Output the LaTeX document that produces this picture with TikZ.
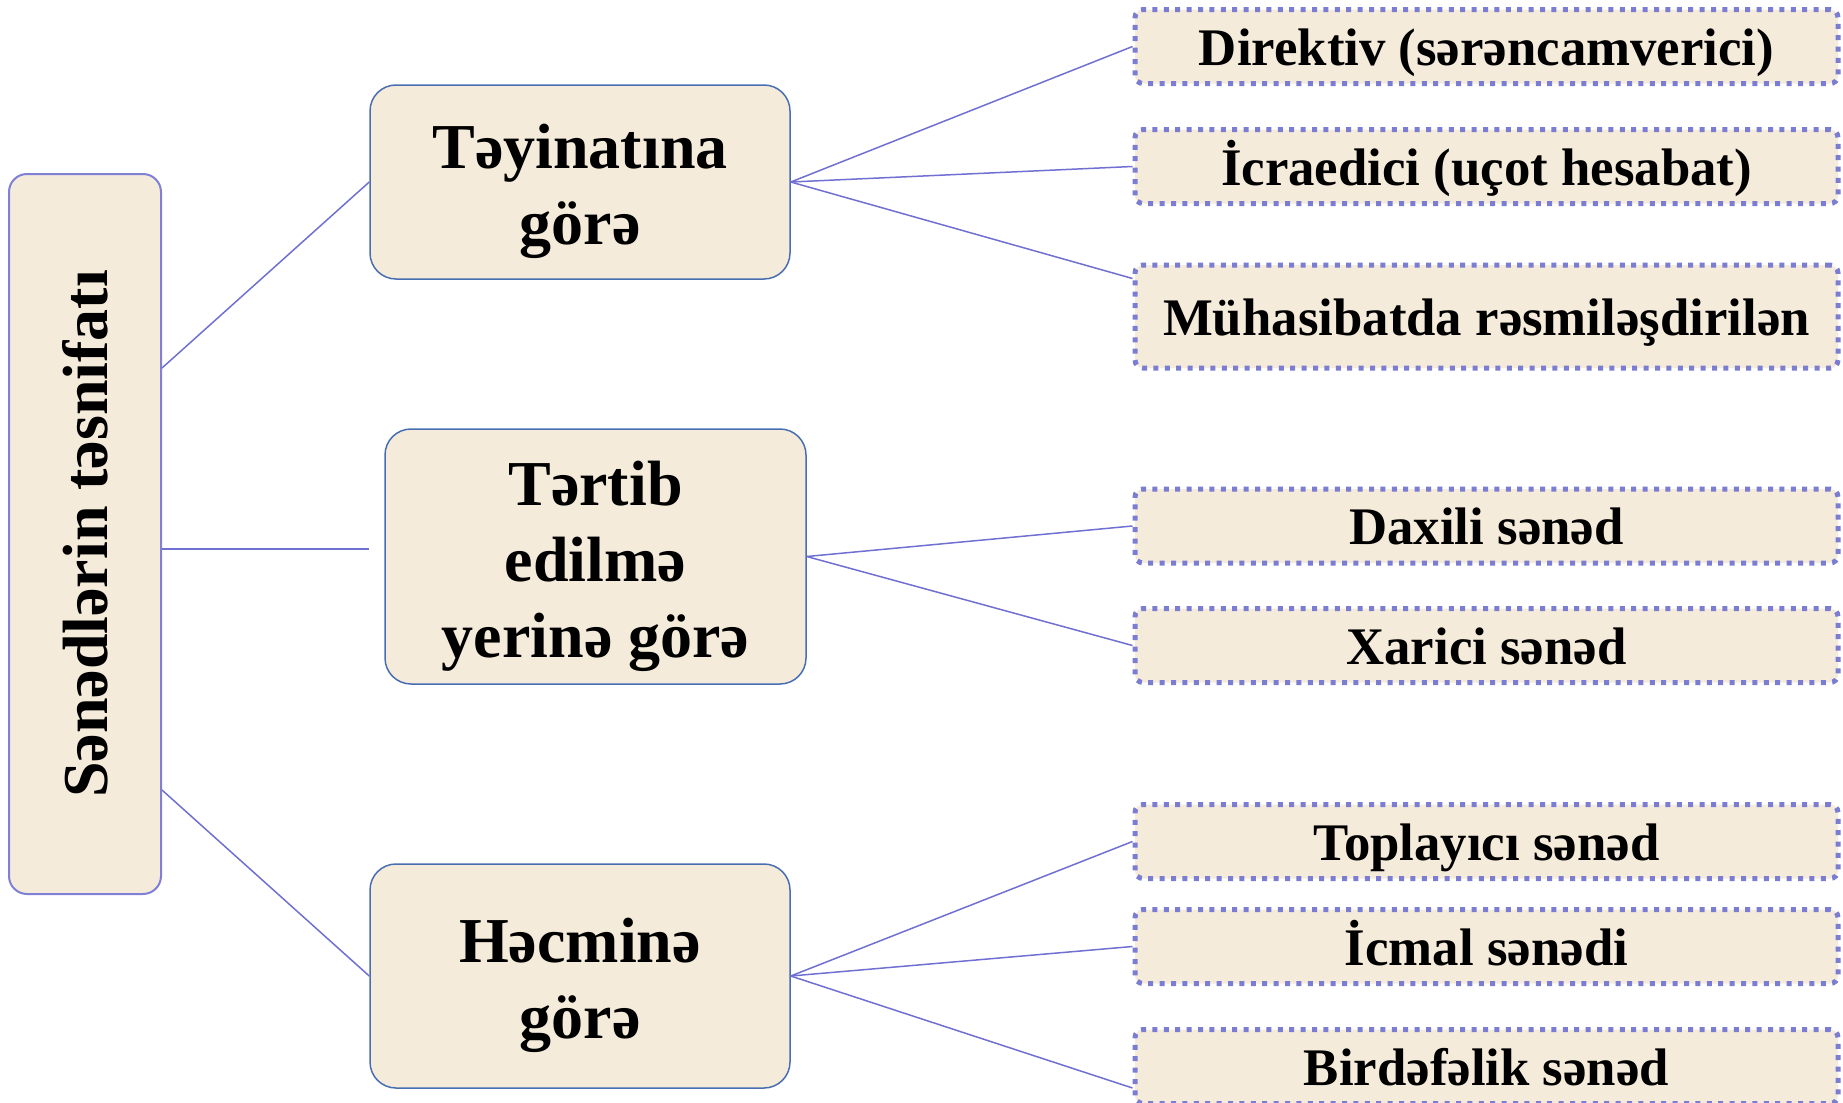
\documentclass[tikz,border=0pt]{standalone}
\usepackage{fontspec}
\usepackage{graphicx}
\setmainfont{Liberation Serif}
\definecolor{fond}{RGB}{245,235,219}
\definecolor{bordroot}{RGB}{128,128,214}
\definecolor{bordmid}{RGB}{72,110,178}
\definecolor{trait}{RGB}{112,112,210}
\definecolor{pointille}{RGB}{122,125,210}
\newcommand{\haut}{\rule{0pt}{32pt}}
\begin{document}
\begin{tikzpicture}[x=0.5pt,y=-0.5pt]
    \useasboundingbox (0,0) rectangle (1843,1103);
    \tikzstyle{racine}=[rectangle, rounded corners=9pt, draw=bordroot, line width=1pt, fill=fond, minimum width=76pt, minimum height=360pt, inner sep=0pt, font=\bfseries\fontsize{32}{38}\selectfont]
    \tikzstyle{groupe}=[rectangle, rounded corners=13pt, draw=bordmid, line width=0.75pt, fill=fond, minimum width=210pt, inner sep=0pt, align=center, font=\bfseries\fontsize{32}{38}\selectfont]
    \tikzstyle{feuille}=[rectangle, rounded corners=4pt, draw=pointille, line width=2.5pt, dash pattern=on 2.5pt off 3.2pt, fill=fond, minimum width=351.5pt, minimum height=37pt, inner sep=0pt, text height=22pt, text depth=3.5pt, font=\bfseries\fontsize{26.4}{31}\selectfont]
    \node[racine] (N00) at (85, 534) {\rotatebox{90}{Sənədlərin təsnifatı}};
    \node[groupe, minimum height=97pt] (N01) at (580, 182) {\haut Təyinatına \\ görə};
    \node[groupe, minimum width=210.5pt, minimum height=127.5pt] (N02) at (595.5, 556.5) {\haut Tərtib \\ edilmə \\ yerinə görə};
    \node[groupe, minimum height=112pt] (N03) at (580, 976) {\haut Həcminə \\ görə};
    \node[feuille] (N11) at (1486.5, 46.5) {Direktiv (sərəncamverici)};
    \node[feuille] (N12) at (1486.5, 166.5) {İcraedici (uçot hesabat)};
    \node[feuille, minimum height=51.5pt] (N13) at (1486.5, 316.5) {Mühasibatda rəsmiləşdirilən};
    \node[feuille] (N21) at (1486.5, 526) {Daxili sənəd};
    \node[feuille] (N22) at (1486.5, 645.5) {Xarici sənəd};
    \node[feuille] (N31) at (1486.5, 841.5) {Toplayıcı sənəd};
    \node[feuille] (N32) at (1486.5, 946.5) {İcmal sənədi};
    \node[feuille] (N33) at (1486.5, 1066.5) {Birdəfəlik sənəd};

    \tikzstyle{link}=[draw=trait, line width=0.75pt]
    \draw[link] ([yshift=83pt]N00.east) -- (N01.west);
    \draw[link, shorten >=7.5pt] ([yshift=-7.5pt]N00.east) -- ([yshift=3.75pt]N02.west);
    \draw[link] ([yshift=-128pt]N00.east) -- (N03.west);
    \draw[link] (N01.east) -- (N11.west);
    \draw[link] (N01.east) -- (N12.west);
    \draw[link] (N01.east) -- ([yshift=19pt]N13.west);
    \draw[link] (N02.east) -- (N21.west);
    \draw[link] (N02.east) -- (N22.west);
    \draw[link] (N03.east) -- (N31.west);
    \draw[link] (N03.east) -- (N32.west);
    \draw[link] (N03.east) -- ([yshift=-10.75pt]N33.west);
\end{tikzpicture}
\end{document}
